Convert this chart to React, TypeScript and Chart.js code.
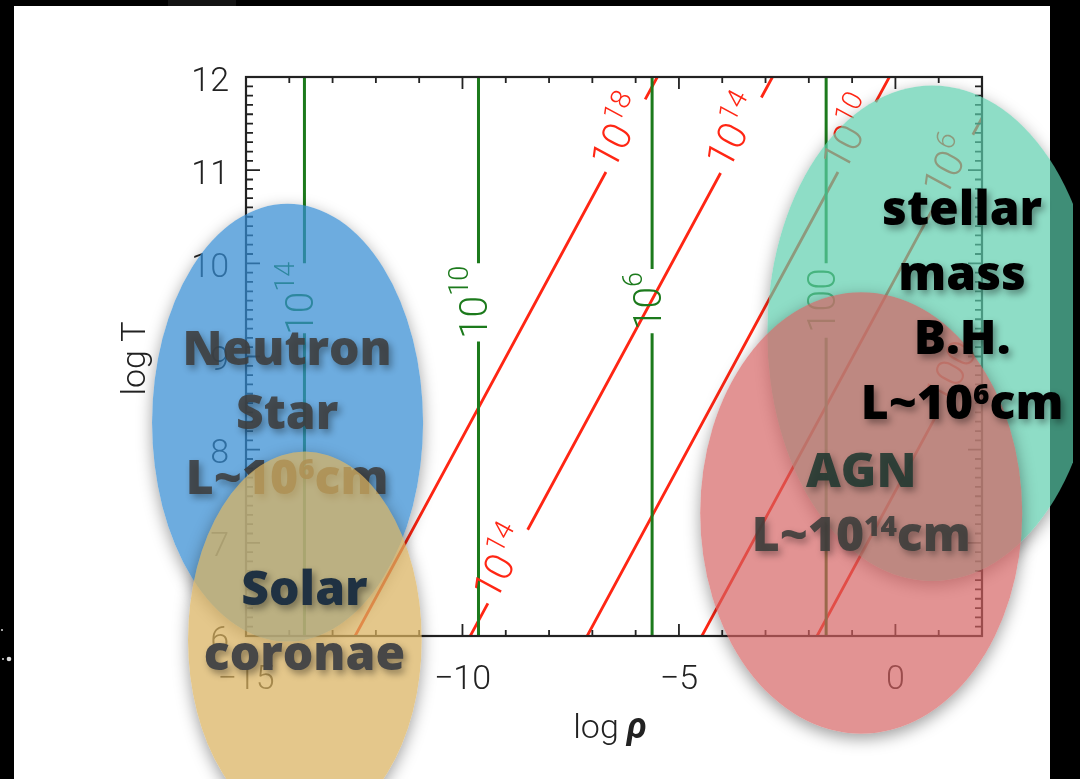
import React, { useEffect, useRef } from "react";
import { Chart, registerables } from "chart.js";

Chart.register(...registerables);

const PAGE_W = 1080;
const PAGE_H = 779;

// axes
const RHO_MIN = -15;
const RHO_MAX = 2;
const T_MIN = 6;
const T_MAX = 12;
const X_MAJOR_EVERY = 5;

// green (vertical) contours: position in log rho, label, label gap in log T
const greenRho = [-13.65, -9.63, -5.62, -1.6];
const greenLabel = ["10^14", "10^10", "10^6", "100"];
const greenGapLowT = [9.25, 9.16, 9.25, 9.2];
const greenGapHighT = [10.0, 10.0, 9.94, 10.0];

// red (diagonal) contours: log rho where each crosses log T = 6 and log T = 12
const redRhoAtTmin = [-12.48, -9.82, -7.12, -4.47, -1.81];
const redRhoAtTmax = [-5.5, -2.84, -0.14, 2.51, 5.17];
const redLabel = ["10^18", "10^14", "10^10", "10^6", "100"];
const redGapLowT = [[10.98], [10.97, 6.35], [10.98], [10.63], [8.39]];
const redGapHighT = [[11.76], [11.78, 7.14], [11.73], [11.38], [9.18]];

// highlighted regions (ellipses in data units)
const regionRho = [-14.04, -13.64, 0.85, -0.79];
const regionT = [8.29, 5.96, 9.25, 7.32];
const regionRhoRadius = [3.13, 2.7, 3.81, 3.72];
const regionTRadius = [2.35, 2.02, 2.66, 2.37];
const regionFill = [
  "rgba(52,140,210,0.72)",
  "rgba(218,178,94,0.72)",
  "rgba(91,206,173,0.69)",
  "rgba(212,96,96,0.68)",
];
const regionText = [
  ["Neutron", "Star", "L~10^6cm"],
  ["Solar", "coronae"],
  ["stellar", "mass", "B.H.", "L~10^6cm"],
  ["AGN", "L~10^14cm"],
];
const regionTextColor = [
  ["rgba(62,62,62,0.88)", "rgba(62,62,62,0.88)", "rgba(62,62,62,0.88)"],
  ["#1f3142", "#474747"],
  ["#000", "#000", "#000", "#000"],
  ["rgba(36,58,50,0.9)", "rgba(62,62,60,0.9)"],
];
const regionTextRho = [-14.05, -13.65, 1.54, -0.79];
const regionTextT = [8.91, 6.33, 10.41, 7.6];

const xTitle = "log ";
const xTitleSymbol = "ρ";
const yTitle = "log T";

const RED = "rgb(255,38,20)";
const GREEN = "rgb(28,122,28)";
const INK = "#222";

type Part = { t: string; sup: boolean };
function parseRich(s: string): Part[] {
  const parts: Part[] = [];
  const re = /\^(\d+)/g;
  let last = 0;
  let m: RegExpExecArray | null;
  while ((m = re.exec(s))) {
    if (m.index > last) parts.push({ t: s.slice(last, m.index), sup: false });
    parts.push({ t: m[1], sup: true });
    last = m.index + m[0].length;
  }
  if (last < s.length) parts.push({ t: s.slice(last), sup: false });
  return parts;
}

function drawRich(
  ctx: CanvasRenderingContext2D,
  s: string,
  x: number,
  y: number,
  baseFont: string,
  supFont: string,
  rise: number
) {
  const parts = parseRich(s);
  const widths = parts.map((p) => {
    ctx.font = p.sup ? supFont : baseFont;
    return ctx.measureText(p.t).width;
  });
  const total = widths.reduce((a, b) => a + b, 0);
  let cx = x - total / 2;
  ctx.textAlign = "left";
  ctx.textBaseline = "alphabetic";
  parts.forEach((p, i) => {
    ctx.font = p.sup ? supFont : baseFont;
    ctx.fillText(p.t, cx, p.sup ? y - rise : y);
    cx += widths[i];
  });
}

function fmtTick(v: number) {
  if (v < 0) return "\u2212" + Math.abs(v);
  return String(v);
}

function redRhoAt(i: number, t: number) {
  return redRhoAtTmin[i] + ((t - T_MIN) * (redRhoAtTmax[i] - redRhoAtTmin[i])) / (T_MAX - T_MIN);
}

function buildGreen(i: number) {
  const r = greenRho[i];
  return [
    { x: r, y: T_MIN },
    { x: r, y: greenGapLowT[i] },
    { x: r, y: null },
    { x: r, y: greenGapHighT[i] },
    { x: r, y: T_MAX },
  ];
}

function buildRed(i: number) {
  const gaps = redGapLowT[i]
    .map((lo, k) => [lo, redGapHighT[i][k]])
    .sort((a, b) => a[0] - b[0]);
  const pts: { x: number; y: number | null }[] = [{ x: redRhoAtTmin[i], y: T_MIN }];
  gaps.forEach(([lo, hi]) => {
    pts.push({ x: redRhoAt(i, lo), y: lo });
    pts.push({ x: redRhoAt(i, (lo + hi) / 2), y: null });
    pts.push({ x: redRhoAt(i, hi), y: hi });
  });
  pts.push({ x: redRhoAtTmax[i], y: T_MAX });
  return pts;
}

const isInt = (v: number) => Math.abs(v - Math.round(v)) < 1e-6;

const decorPlugin = {
  id: "decor",
  beforeDraw(chart: any) {
    const ctx: CanvasRenderingContext2D = chart.ctx;
    ctx.save();
    ctx.fillStyle = "#000";
    ctx.fillRect(0, 0, PAGE_W, PAGE_H);
    ctx.fillStyle = "#141414";
    ctx.fillRect(168, 0, 68, 6);
    ctx.fillStyle = "#fff";
    ctx.fillRect(14, 6, 1036, PAGE_H - 6);
    ctx.fillStyle = "#ddd";
    ctx.beginPath();
    ctx.arc(2, 630, 1, 0, Math.PI * 2);
    ctx.arc(3, 659, 1, 0, Math.PI * 2);
    ctx.fill();
    ctx.beginPath();
    ctx.arc(9, 659, 2.3, 0, Math.PI * 2);
    ctx.fill();
    ctx.restore();
  },
  afterDatasetsDraw(chart: any) {
    const ctx: CanvasRenderingContext2D = chart.ctx;
    const xs = chart.scales.x;
    const ys = chart.scales.y;
    const { left, right, top, bottom } = chart.chartArea;
    ctx.save();
    // frame
    ctx.strokeStyle = INK;
    ctx.lineWidth = 2.2;
    ctx.strokeRect(left, top, right - left, bottom - top);
    // ticks (inward)
    ctx.lineWidth = 1.8;
    ctx.beginPath();
    xs.ticks.forEach((t: any) => {
      const v = t.value;
      const px = xs.getPixelForValue(v);
      const len = isInt(v) && Math.round(v) % X_MAJOR_EVERY === 0 ? 12 : 6;
      ctx.moveTo(px, bottom);
      ctx.lineTo(px, bottom - len);
      ctx.moveTo(px, top);
      ctx.lineTo(px, top + len);
    });
    ys.ticks.forEach((t: any) => {
      const v = t.value;
      const py = ys.getPixelForValue(v);
      const len = isInt(v) ? 14 : 7;
      ctx.moveTo(left, py);
      ctx.lineTo(left + len, py);
      ctx.moveTo(right, py);
      ctx.lineTo(right - len, py);
    });
    ctx.stroke();

    // green contour labels
    ctx.fillStyle = GREEN;
    greenRho.forEach((r, i) => {
      const px = xs.getPixelForValue(r);
      const py = ys.getPixelForValue((greenGapLowT[i] + greenGapHighT[i]) / 2);
      ctx.save();
      ctx.translate(px, py);
      ctx.rotate(-Math.PI / 2);
      drawRich(ctx, greenLabel[i], 0, 9, '300 39px Roboto', '300 27px Roboto', 19);
      ctx.restore();
    });

    // red contour labels
    ctx.fillStyle = RED;
    redLabel.forEach((lab, i) => {
      const x0 = xs.getPixelForValue(redRhoAtTmin[i]);
      const y0 = ys.getPixelForValue(T_MIN);
      const x1 = xs.getPixelForValue(redRhoAtTmax[i]);
      const y1 = ys.getPixelForValue(T_MAX);
      const ang = Math.atan2(y1 - y0, x1 - x0);
      redGapLowT[i].forEach((lo, k) => {
        const hi = redGapHighT[i][k];
        const tm = (lo + hi) / 2;
        const px = xs.getPixelForValue(redRhoAt(i, tm));
        const py = ys.getPixelForValue(tm);
        ctx.save();
        ctx.translate(px, py);
        ctx.rotate(ang);
        drawRich(ctx, lab, 0, 6, '300 40px Roboto', '300 28px Roboto', 18);
        ctx.restore();
      });
    });

    // axis titles
    ctx.fillStyle = INK;
    ctx.save();
    ctx.translate(136, (top + bottom) / 2 + 2);
    ctx.rotate(-Math.PI / 2);
    ctx.font = '300 34px Roboto';
    ctx.textAlign = "center";
    ctx.textBaseline = "middle";
    ctx.fillText(yTitle, 0, 0);
    ctx.restore();

    ctx.textBaseline = "alphabetic";
    ctx.textAlign = "left";
    ctx.font = '300 34px Roboto';
    const w1 = ctx.measureText(xTitle).width;
    ctx.font = 'italic 700 36px Roboto';
    const w2 = ctx.measureText(xTitleSymbol).width;
    const cxT = (left + right) / 2 - 4;
    const sx = cxT - (w1 + w2) / 2;
    ctx.font = '300 34px Roboto';
    ctx.fillText(xTitle, sx, 738);
    ctx.font = 'italic 700 36px Roboto';
    ctx.fillText(xTitleSymbol, sx + w1, 738);
    ctx.restore();
  },
  afterDraw(chart: any) {
    const ctx: CanvasRenderingContext2D = chart.ctx;
    const xs = chart.scales.x;
    const ys = chart.scales.y;
    const geo = (i: number) => {
      const cx = xs.getPixelForValue(regionRho[i]);
      const cy = ys.getPixelForValue(regionT[i]);
      const rx = Math.abs(xs.getPixelForValue(regionRho[i] + regionRhoRadius[i]) - cx);
      const ry = Math.abs(ys.getPixelForValue(regionT[i] + regionTRadius[i]) - cy);
      return { cx, cy, rx, ry };
    };
    const drawEllipse = (i: number) => {
      const { cx, cy, rx, ry } = geo(i);
      // shadow only outside the ellipse
      ctx.save();
      ctx.beginPath();
      ctx.rect(-20, -20, PAGE_W + 40, PAGE_H + 40);
      ctx.ellipse(cx, cy, rx, ry, 0, 0, Math.PI * 2);
      ctx.clip("evenodd");
      ctx.shadowColor = "rgba(0,0,0,0.38)";
      ctx.shadowBlur = 16;
      ctx.shadowOffsetX = 10000;
      ctx.shadowOffsetY = 5;
      ctx.fillStyle = "#000";
      ctx.beginPath();
      ctx.ellipse(cx - 10000, cy, rx, ry, 0, 0, Math.PI * 2);
      ctx.fill();
      ctx.restore();
      ctx.save();
      ctx.fillStyle = regionFill[i];
      ctx.beginPath();
      ctx.ellipse(cx, cy, rx, ry, 0, 0, Math.PI * 2);
      ctx.fill();
      ctx.restore();
    };
    const drawText = (i: number) => {
      const cx = xs.getPixelForValue(regionTextRho[i]);
      const by = ys.getPixelForValue(regionTextT[i]);
      ctx.save();
      ctx.shadowColor = "rgba(0,0,0,0.38)";
      ctx.shadowBlur = 7;
      ctx.shadowOffsetX = 3;
      ctx.shadowOffsetY = 4;
      regionText[i].forEach((line, k) => {
        ctx.fillStyle = regionTextColor[i][k];
        drawRich(ctx, line, cx, by + k * 64.5, '800 48px "Open Sans"', '800 28px "Open Sans"', 15);
      });
      ctx.restore();
    };
    ctx.save();
    ctx.beginPath();
    ctx.rect(0, 0, 1073, PAGE_H);
    ctx.clip();
    drawEllipse(0);
    drawText(0);
    drawEllipse(1);
    drawText(1);
    drawEllipse(2);
    drawEllipse(3);
    drawText(3);
    drawText(2);
    ctx.restore();
  },
};

export default function App() {
  const ref = useRef<HTMLCanvasElement>(null);
  useEffect(() => {
    if (!ref.current) return;
    const datasets: any[] = [];
    greenRho.forEach((_, i) =>
      datasets.push({
        label: "green " + greenLabel[i],
        data: buildGreen(i),
        showLine: true,
        borderColor: GREEN,
        borderWidth: 3,
        pointRadius: 0,
        spanGaps: false,
        fill: false,
      })
    );
    redRhoAtTmin.forEach((_, i) =>
      datasets.push({
        label: "red " + redLabel[i],
        data: buildRed(i),
        showLine: true,
        borderColor: RED,
        borderWidth: 2.8,
        pointRadius: 0,
        spanGaps: false,
        fill: false,
      })
    );
    const chart = new Chart(ref.current, {
      type: "scatter",
      data: { datasets },
      plugins: [decorPlugin as any],
      options: {
        responsive: false,
        animation: false,
        events: [],
        layout: { padding: { left: 0, right: 98, top: 77, bottom: 0 } },
        plugins: { legend: { display: false }, tooltip: { enabled: false } },
        scales: {
          x: {
            type: "linear",
            position: "bottom",
            min: RHO_MIN,
            max: RHO_MAX,
            grid: { display: false, drawTicks: false },
            border: { display: false },
            ticks: {
              stepSize: 1,
              autoSkip: false,
              maxRotation: 0,
              padding: 24,
              color: INK,
              font: { family: "Roboto", size: 34, weight: "300" as any },
              callback: (v: any) => {
                const n = Number(v);
                return isInt(n) && Math.round(n) % X_MAJOR_EVERY === 0 ? fmtTick(Math.round(n)) : "";
              },
            },
            afterFit: (s: any) => {
              s.height = 143;
            },
          },
          y: {
            type: "linear",
            min: T_MIN,
            max: T_MAX,
            grid: { display: false, drawTicks: false },
            border: { display: false },
            ticks: {
              stepSize: 0.1,
              autoSkip: false,
              padding: 17,
              labelOffset: 5,
              color: INK,
              font: { family: "Roboto", size: 34, weight: "300" as any },
              callback: (v: any) => {
                const n = Number(v);
                return isInt(n) ? String(Math.round(n)) : "";
              },
            },
            afterFit: (s: any) => {
              s.width = 246;
            },
          },
        },
      },
    });
    return () => chart.destroy();
  }, []);
  return (
    <div style={{ position: "fixed", left: 0, top: 0, width: PAGE_W, height: PAGE_H, overflow: "hidden" }}>
      <canvas ref={ref} width={PAGE_W} height={PAGE_H} style={{ display: "block" }} />
    </div>
  );
}
